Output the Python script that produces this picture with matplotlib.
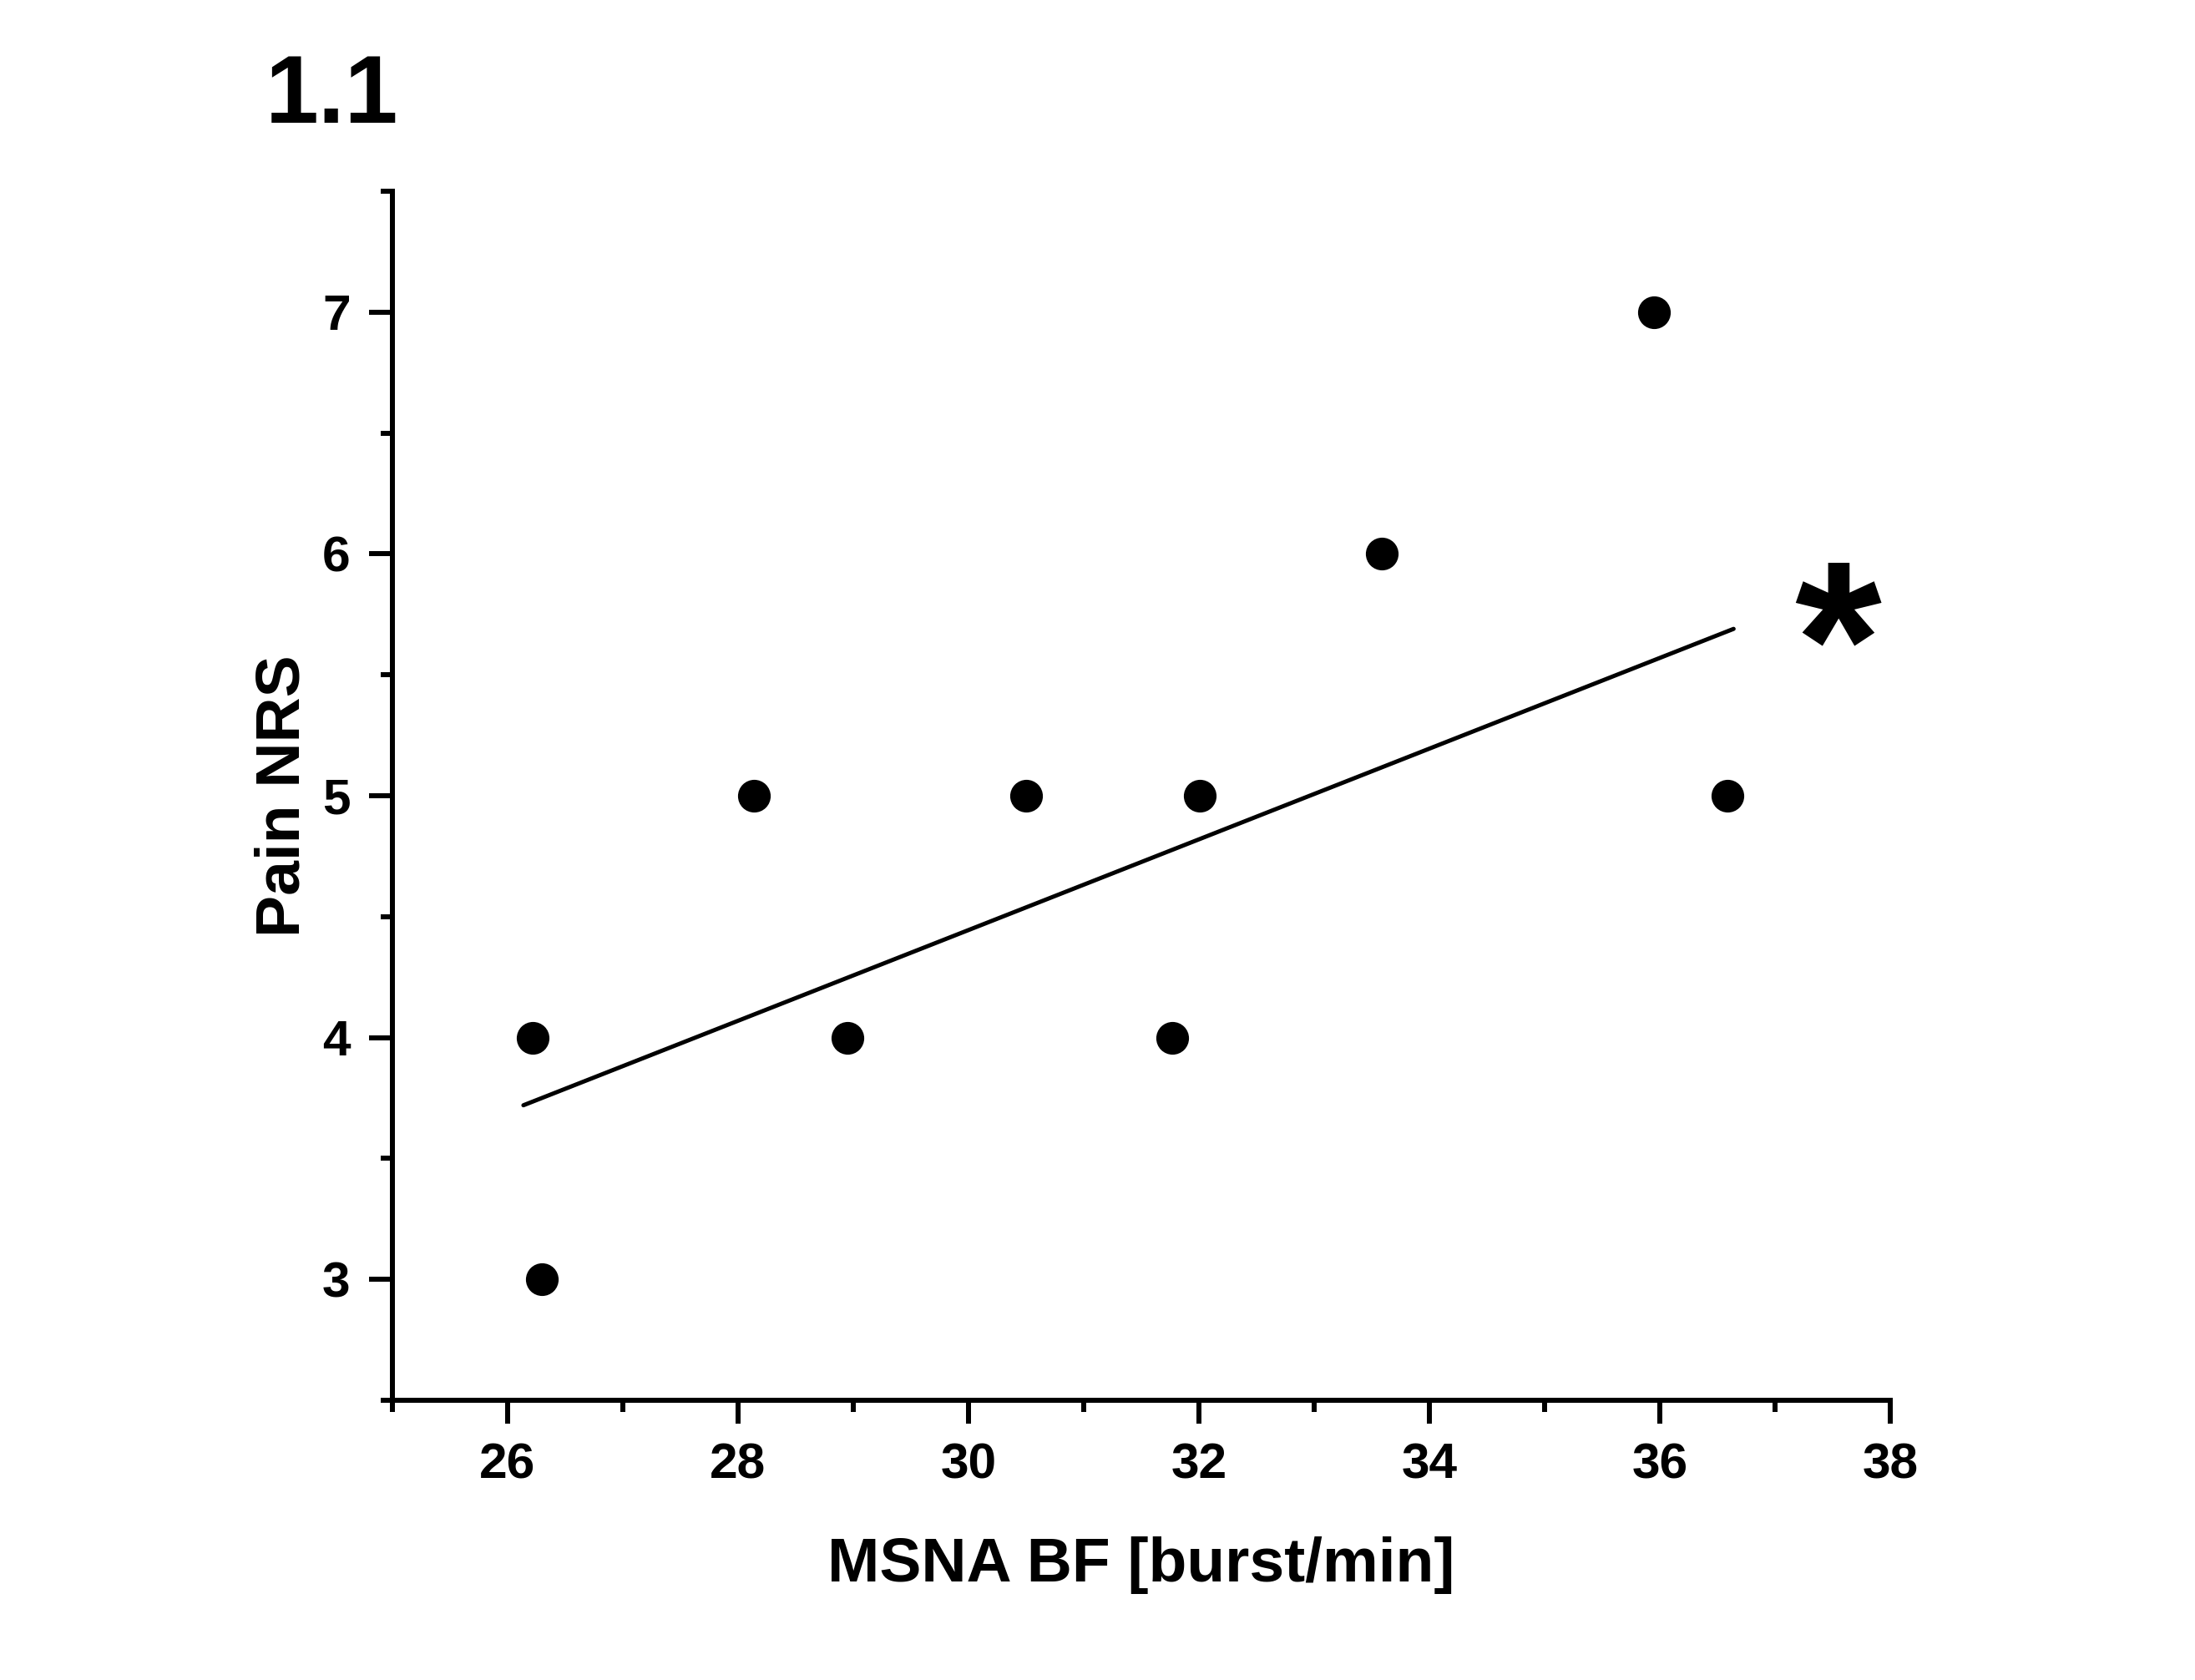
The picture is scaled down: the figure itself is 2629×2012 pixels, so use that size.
import matplotlib
matplotlib.use("Agg")
import matplotlib.pyplot as plt
from matplotlib.ticker import MultipleLocator

plt.rcParams['font.family'] = ['Liberation Sans', 'DejaVu Sans']
plt.rcParams['font.weight'] = 'bold'

# data
msna_bf = [26.22, 26.30, 28.14, 28.95, 30.50, 31.77, 32.01, 33.59, 35.95, 36.59]
pain_nrs = [4, 3, 5, 4, 5, 4, 5, 6, 7, 5]

# regression line end points
fit_x = [26.14, 36.64]
fit_y = [3.72, 5.69]

fig = plt.figure(figsize=(2629 / 300, 2012 / 300), dpi=300)
ax = fig.add_axes([0.1786, 0.1665, 0.8612 - 0.1786, 0.8862 - 0.1665])

ax.plot(fit_x, fit_y, color='black', lw=1.2, solid_capstyle='round', zorder=2)
ax.plot(msna_bf, pain_nrs, 'o', color='black', ms=8.4, zorder=3)

ax.set_xlim(25, 38)
ax.set_ylim(2.5, 7.5)
ax.xaxis.set_major_locator(MultipleLocator(2))
ax.xaxis.set_minor_locator(MultipleLocator(1))
ax.yaxis.set_major_locator(MultipleLocator(1))
ax.yaxis.set_minor_locator(MultipleLocator(0.5))

for s in ['top', 'right']:
    ax.spines[s].set_visible(False)
for s in ['left', 'bottom']:
    ax.spines[s].set_linewidth(1.44)

ax.tick_params(which='major', direction='out', length=6.7, width=1.44,
               pad=5.3, labelsize=14.5)
ax.tick_params(which='minor', direction='out', length=3.4, width=1.44)
for lab in ax.get_xticklabels() + ax.get_yticklabels():
    lab.set_fontweight('bold')

ax.set_xlabel('MSNA BF [burst/min]', fontsize=18, fontweight='bold', labelpad=14)
ax.set_ylabel('Pain NRS', fontsize=18, fontweight='bold', labelpad=3)

ax.text(37.54, 5.33, '*', fontsize=64, fontweight='bold', ha='center',
        va='baseline', clip_on=False)

fig.text(0.121, 0.927, '1.1', fontsize=27.5, fontweight='bold', ha='left',
         va='baseline')

fig.savefig('out.png', dpi=300)
